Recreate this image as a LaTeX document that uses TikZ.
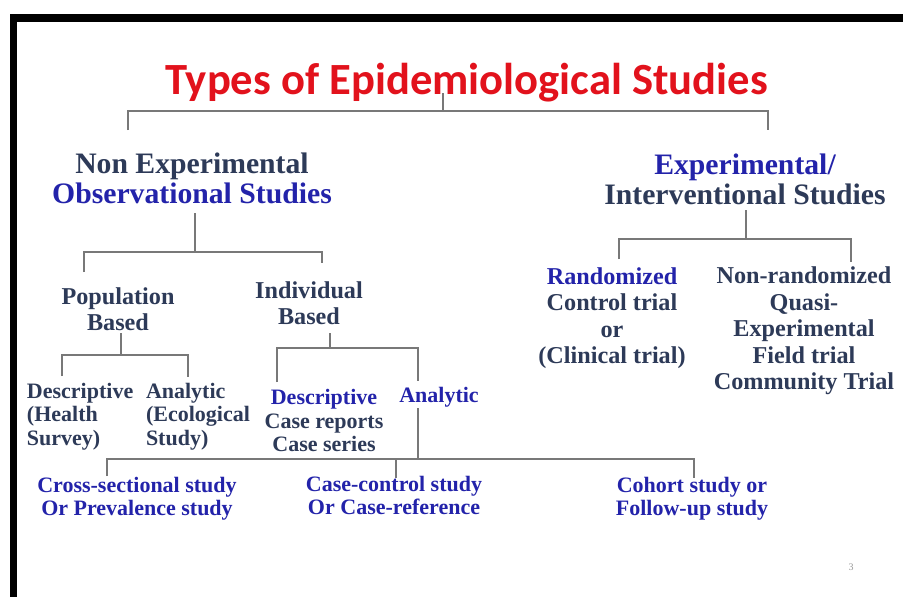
\documentclass[tikz,border=0pt]{standalone}
\usepackage{fontspec}
\setmainfont{Liberation Serif}
\newfontfamily\titlefont{Carlito}
\definecolor{txtblue}{RGB}{35,35,170}
\definecolor{txtdark}{RGB}{45,58,88}
\definecolor{titlered}{RGB}{226,18,28}
\definecolor{linegray}{RGB}{120,120,120}
\begin{document}
\begin{tikzpicture}[x=1pt,y=-1pt,
  lbl/.style={inner sep=0pt, outer sep=0pt},
  big/.style={lbl, align=center, font=\fontsize{29.7}{30}\selectfont\bfseries},
  mid/.style={lbl, align=center, font=\fontsize{24.2}{26}\selectfont\bfseries},
  midtall/.style={lbl, align=center, font=\fontsize{24.2}{26.5}\selectfont\bfseries},
  small/.style={lbl, font=\fontsize{22}{23.5}\selectfont\bfseries},
  conn/.style={draw=linegray, line width=1.2pt},
]
\useasboundingbox (0,0) rectangle (903,597);
\fill[white] (0,0) rectangle (903,597);
% frame bands
\fill[black] (10,14) rectangle (903,22);
\fill[black] (10,14) rectangle (17,597);

% title
\node[lbl, anchor=base, text=titlered, font=\titlefont\fontsize{44.6}{48}\selectfont\bfseries] (title) at (466.5,94) {Types of Epidemiological Studies};

% level 1
\node[big, text=txtdark] (nonexp) at (192,178) {Non Experimental\\\textcolor{txtblue}{Observational Studies}};
\node[big, text=txtblue] (exp) at (745,179) {Experimental/\\\textcolor{txtdark}{Interventional Studies}};

% level 2
\node[mid, text=txtdark] (pop) at (118,309) {Population\\Based};
\node[mid, text=txtdark] (ind) at (309,303) {Individual\\Based};
\node[midtall, text=txtdark] (rand) at (612,318) {\textcolor{txtblue}{Randomized}\\Control trial\\or\\(Clinical trial)};
\node[midtall, text=txtdark] (nonrand) at (804,331) {Non-randomized\\Quasi-\\Experimental\\Field trial\\Community Trial};

% level 3
\node[small, align=left, anchor=west, text=txtdark] (pdesc) at (27,416.5) {Descriptive\\(Health\\Survey)};
\node[small, align=left, anchor=west, text=txtdark] (pana) at (146,416.5) {Analytic\\(Ecological\\Study)};
\node[small, align=center, text=txtdark] (idesc) at (324,420.5) {\textcolor{txtblue}{Descriptive}\\Case reports\\Case series};
\node[small, text=txtblue] (iana) at (439,397) {Analytic};

% bottom row
\node[small, align=center, text=txtblue] (cross) at (137,498.5) {Cross-sectional study\\Or Prevalence study};
\node[small, align=center, text=txtblue] (cc) at (394,495.5) {Case-control study\\Or Case-reference};
\node[small, align=center, text=txtblue] (cohort) at (692,498.5) {Cohort study or\\Follow-up study};

% page number
\node[lbl, text=black!40, font=\fontsize{10}{11}\selectfont] (pg) at (851,567) {3};

% connectors: top
\coordinate (ts) at (443,93);
\coordinate (tj) at (443,111);
\coordinate (tl) at (128,130);
\coordinate (tr) at (768,130);
\draw[conn] (ts) -- (tj);
\draw[conn] (tl) |- (tj) -| (tr);

% non experimental
\coordinate (ns) at (195,213);
\coordinate (nj) at (195,252);
\coordinate (nl) at (84,272);
\coordinate (nr) at (322,263);
\draw[conn] (ns) -- (nj);
\draw[conn] (nl) |- (nj) -| (nr);

% experimental
\coordinate (es) at (746,210);
\coordinate (ej) at (746,239);
\coordinate (el) at (619,259);
\coordinate (er) at (851,262);
\draw[conn] (es) -- (ej);
\draw[conn] (el) |- (ej) -| (er);

% population
\coordinate (ps) at (121,333);
\coordinate (pj) at (121,355);
\coordinate (pl) at (62,376);
\coordinate (pr) at (188,377);
\draw[conn] (ps) -- (pj);
\draw[conn] (pl) |- (pj) -| (pr);

% individual
\coordinate (is) at (330,333);
\coordinate (ij) at (330,348);
\coordinate (il) at (277,382);
\coordinate (ir) at (418,381);
\draw[conn] (is) -- (ij);
\draw[conn] (il) |- (ij) -| (ir);

% analytic to bottom
\coordinate (as) at (418,408);
\coordinate (aj) at (418,459);
\coordinate (bl) at (107,476);
\coordinate (br) at (694,478);
\coordinate (bm) at (396,459);
\coordinate (bme) at (396,478);
\draw[conn] (as) -- (aj);
\draw[conn] (bl) |- (aj) -| (br);
\draw[conn] (bm) -- (bme);
\end{tikzpicture}
\end{document}
